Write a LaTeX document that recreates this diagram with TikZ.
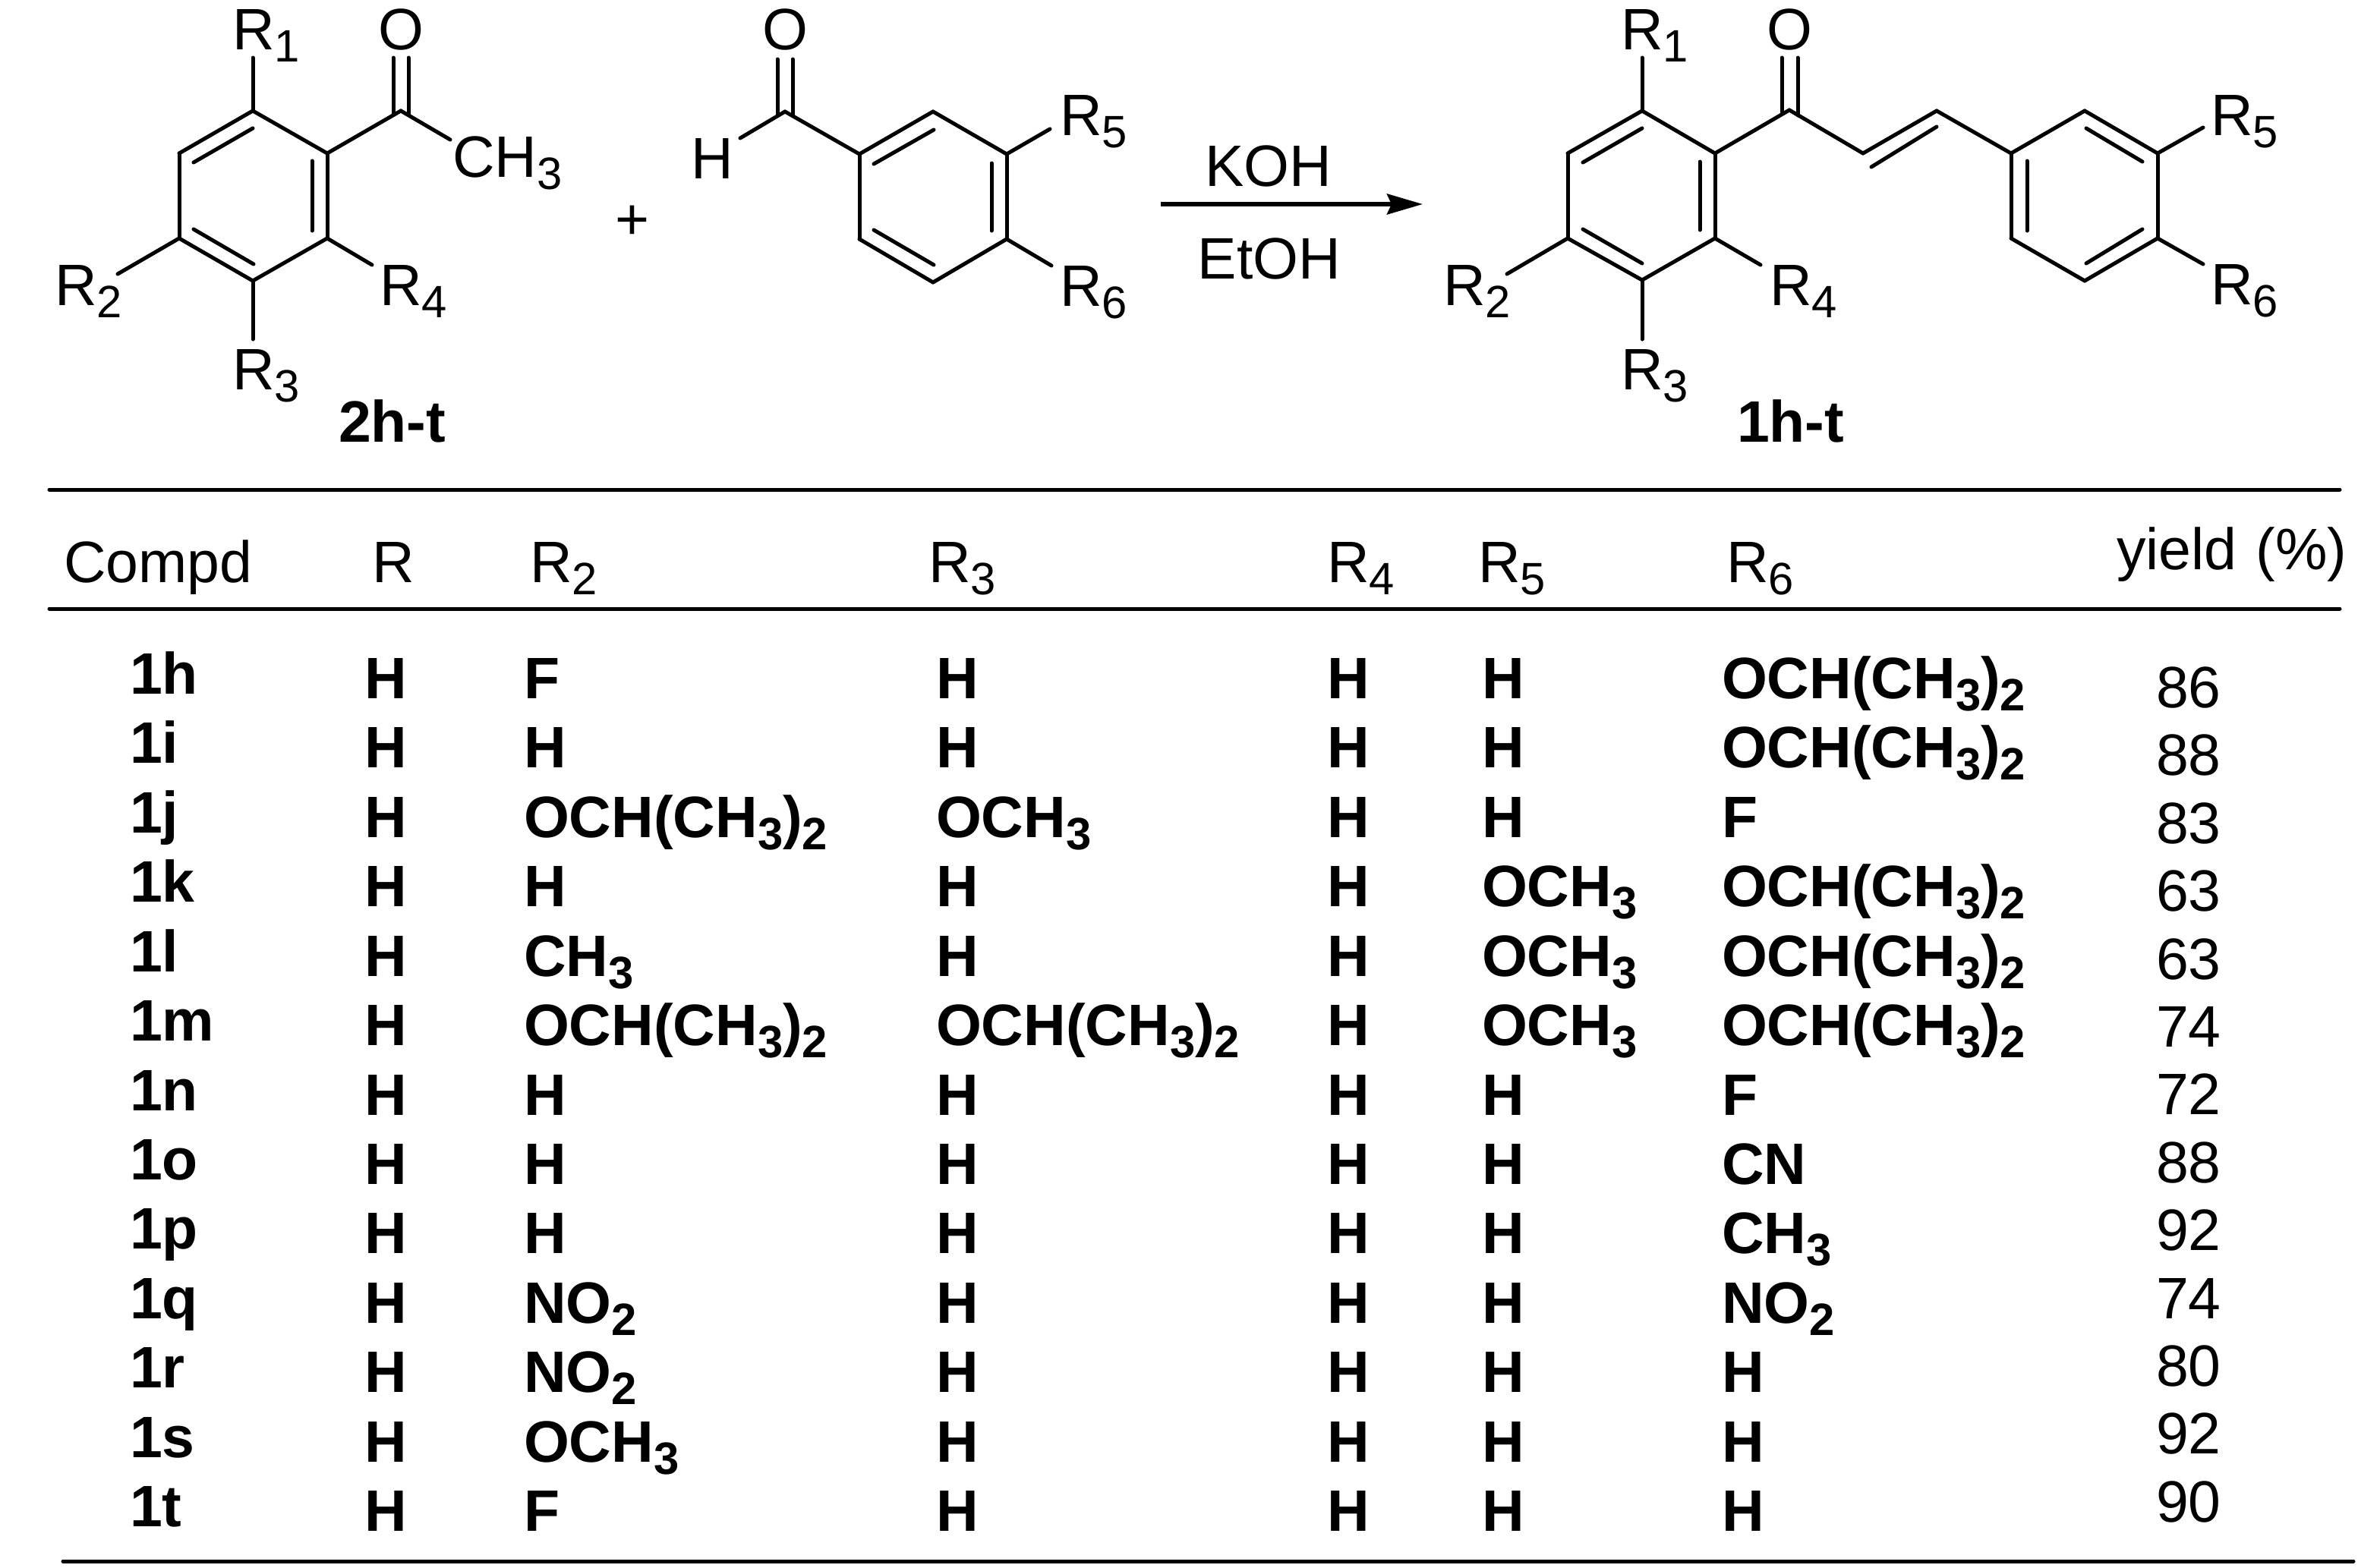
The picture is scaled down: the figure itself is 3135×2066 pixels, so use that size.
\documentclass[tikz,border=0pt]{standalone}
\usepackage{fontspec}
\setmainfont{Liberation Sans}
\usepackage{tikz}
\usetikzlibrary{arrows.meta}
\newcommand{\subs}[1]{\raisebox{-0.16cm}{\fontsize{17pt}{18pt}\selectfont #1}}
\newcommand{\och}{OCH(CH\subs{3})\subs{2}}
\newcommand{\ome}{OCH\subs{3}}
\tikzset{
	txt/.style={anchor=base west,inner sep=0pt,outer sep=0pt,font=\fontsize{21.9pt}{24pt}\selectfont},
	cell/.style={txt,font=\fontsize{21.9pt}{24pt}\selectfont\bfseries},
	mid/.style={txt,anchor=base},
	bond/.style={line width=0.05cm,line cap=round,black},
	rule/.style={line width=0.05cm,line cap=round,black},
}

\begin{document}
\begin{tikzpicture}[x=0.01cm,y=-0.01cm]
		\useasboundingbox (0,0) rectangle (3135,2066);

		\coordinate (a1) at (333,146);
		\coordinate (a2) at (431,202);
		\coordinate (a3) at (431,314);
		\coordinate (a4) at (333,370);
		\coordinate (a5) at (236,314);
		\coordinate (a6) at (236,202);
		\coordinate (a7) at (528,146);
		\coordinate (a1i) at (333,169);
		\coordinate (a6i) at (255,214);
		\coordinate (a2i) at (411,212);
		\coordinate (a3i) at (411,304);
		\coordinate (a5i) at (255,302);
		\coordinate (a4i) at (334,348);
		\coordinate (ao1) at (518,76);
		\coordinate (ao2) at (518,149);
		\coordinate (ao3) at (538,76);
		\coordinate (ao4) at (538,151);
		\coordinate (aR1) at (333,76);
		\coordinate (aR2) at (155,361);
		\coordinate (aR3) at (333,447);
		\coordinate (aR4) at (490,349);
		\coordinate (aMe) at (593,184);

		\path [bond] (a1) edge (a2);
		\path [bond] (a2) edge (a3);
		\path [bond] (a3) edge (a4);
		\path [bond] (a4) edge (a5);
		\path [bond] (a5) edge (a6);
		\path [bond] (a6) edge (a1);
		\path [bond] (a6i) edge (a1i);
		\path [bond] (a2i) edge (a3i);
		\path [bond] (a5i) edge (a4i);
		\path [bond] (a2) edge (a7);
		\path [bond] (a7) edge (aMe);
		\path [bond] (ao1) edge (ao2);
		\path [bond] (ao3) edge (ao4);
		\path [bond] (a1) edge (aR1);
		\path [bond] (a5) edge (aR2);
		\path [bond] (a4) edge (aR3);
		\path [bond] (a3) edge (aR4);

		\node[mid] (aO) at (528,65){O};
		\node[txt] (aCH) at (596,233){CH\subs{3}};
		\node[txt] (aRa) at (306,65){R\subs{1}};
		\node[txt] (aRb) at (72,402){R\subs{2}};
		\node[txt] (aRc) at (306,513){R\subs{3}};
		\node[txt] (aRd) at (500,402){R\subs{4}};
		\node[cell] (aName) at (446,582){2h-t};

		\node[mid] (plus) at (833,315){+};

		\coordinate (b1) at (1229,147);
		\coordinate (b2) at (1326,203);
		\coordinate (b3) at (1326,315);
		\coordinate (b4) at (1229,372);
		\coordinate (b5) at (1132,315);
		\coordinate (b6) at (1132,203);
		\coordinate (b7) at (1034,147);
		\coordinate (b1i) at (1230,171);
		\coordinate (b6i) at (1151,216);
		\coordinate (b2i) at (1306,215);
		\coordinate (b3i) at (1306,304);
		\coordinate (b5i) at (1151,303);
		\coordinate (b4i) at (1230,349);
		\coordinate (bo1) at (1024,78);
		\coordinate (bo2) at (1024,152);
		\coordinate (bo3) at (1044,78);
		\coordinate (bo4) at (1044,152);
		\coordinate (bH) at (975,182);
		\coordinate (bR5) at (1383,170);
		\coordinate (bR6) at (1385,350);

		\path [bond] (b1) edge (b2);
		\path [bond] (b2) edge (b3);
		\path [bond] (b3) edge (b4);
		\path [bond] (b4) edge (b5);
		\path [bond] (b5) edge (b6);
		\path [bond] (b6) edge (b1);
		\path [bond] (b6i) edge (b1i);
		\path [bond] (b2i) edge (b3i);
		\path [bond] (b5i) edge (b4i);
		\path [bond] (b6) edge (b7);
		\path [bond] (b7) edge (bH);
		\path [bond] (bo1) edge (bo2);
		\path [bond] (bo3) edge (bo4);
		\path [bond] (b2) edge (bR5);
		\path [bond] (b3) edge (bR6);

		\node[mid] (bO) at (1034,65){O};
		\node[txt] (bHt) at (910,235){H};
		\node[txt] (bRe) at (1396,178){R\subs{5}};
		\node[txt] (bRf) at (1396,403){R\subs{6}};

		\coordinate (arS) at (1529,269);
		\coordinate (arE) at (1874,269);
		\draw [-{Stealth[length=0.47cm,width=0.27cm,inset=0.06cm]},line width=0.055cm,black] (arS) -- (arE);
		\node[mid] (koh) at (1671,245){KOH};
		\node[mid] (etoh) at (1672,367){EtOH};

		\coordinate (c1) at (2163,146);
		\coordinate (c2) at (2259,202);
		\coordinate (c3) at (2259,314);
		\coordinate (c4) at (2163,369);
		\coordinate (c5) at (2065,314);
		\coordinate (c6) at (2065,202);
		\coordinate (c7) at (2357,145);
		\coordinate (c8) at (2454,202);
		\coordinate (c9) at (2551,146);
		\coordinate (c1i) at (2163,169);
		\coordinate (c6i) at (2085,214);
		\coordinate (c2i) at (2239,213);
		\coordinate (c3i) at (2239,303);
		\coordinate (c5i) at (2085,302);
		\coordinate (c4i) at (2163,347);
		\coordinate (c8i) at (2465,220);
		\coordinate (c9i) at (2551,167);
		\coordinate (co1) at (2347,76);
		\coordinate (co2) at (2347,150);
		\coordinate (co3) at (2368,76);
		\coordinate (co4) at (2368,152);
		\coordinate (cR1) at (2163,76);
		\coordinate (cR2) at (1985,361);
		\coordinate (cR3) at (2163,447);
		\coordinate (cR4) at (2319,349);

		\path [bond] (c1) edge (c2);
		\path [bond] (c2) edge (c3);
		\path [bond] (c3) edge (c4);
		\path [bond] (c4) edge (c5);
		\path [bond] (c5) edge (c6);
		\path [bond] (c6) edge (c1);
		\path [bond] (c6i) edge (c1i);
		\path [bond] (c2i) edge (c3i);
		\path [bond] (c5i) edge (c4i);
		\path [bond] (c2) edge (c7);
		\path [bond] (c7) edge (c8);
		\path [bond] (c8) edge (c9);
		\path [bond] (c8i) edge (c9i);
		\path [bond] (co1) edge (co2);
		\path [bond] (co3) edge (co4);
		\path [bond] (c1) edge (cR1);
		\path [bond] (c5) edge (cR2);
		\path [bond] (c4) edge (cR3);
		\path [bond] (c3) edge (cR4);

		\node[mid] (cO) at (2357,65){O};
		\node[txt] (cRa) at (2135,65){R\subs{1}};
		\node[txt] (cRb) at (1901,402){R\subs{2}};
		\node[txt] (cRc) at (2135,513){R\subs{3}};
		\node[txt] (cRd) at (2331,402){R\subs{4}};
		\node[cell] (cName) at (2288,582){1h-t};

		\coordinate (d1) at (2746,146);
		\coordinate (d2) at (2842,202);
		\coordinate (d3) at (2842,314);
		\coordinate (d4) at (2746,370);
		\coordinate (d5) at (2649,314);
		\coordinate (d6) at (2649,202);
		\coordinate (d1i) at (2748,169);
		\coordinate (d2i) at (2822,213);
		\coordinate (d6i) at (2670,212);
		\coordinate (d5i) at (2670,304);
		\coordinate (d3i) at (2822,302);
		\coordinate (d4i) at (2748,347);
		\coordinate (dR5) at (2902,168);
		\coordinate (dR6) at (2902,348);

		\path [bond] (d1) edge (d2);
		\path [bond] (d2) edge (d3);
		\path [bond] (d3) edge (d4);
		\path [bond] (d4) edge (d5);
		\path [bond] (d5) edge (d6);
		\path [bond] (d6) edge (d1);
		\path [bond] (d1i) edge (d2i);
		\path [bond] (d6i) edge (d5i);
		\path [bond] (d3i) edge (d4i);
		\path [bond] (c9) edge (d6);
		\path [bond] (d2) edge (dR5);
		\path [bond] (d3) edge (dR6);

		\node[txt] (dRe) at (2912,178){R\subs{5}};
		\node[txt] (dRf) at (2912,401){R\subs{6}};

		\coordinate (topL) at (65,645);
		\coordinate (topR) at (3082,645);
		\coordinate (midL) at (65,802);
		\coordinate (midR) at (3082,802);
		\coordinate (botL) at (83,2057);
		\coordinate (botR) at (3100,2057);
		\path [rule] (topL) edge (topR);
		\path [rule] (midL) edge (midR);
		\path [rule] (botL) edge (botR);

		\node[txt] (hd0) at (84,767){Compd};
		\node[txt] (hd1) at (490,767){R};
		\node[txt] (hd2) at (698,767){R\subs{2}};
		\node[txt] (hd3) at (1223,767){R\subs{3}};
		\node[txt] (hd4) at (1748,767){R\subs{4}};
		\node[txt] (hd5) at (1947,767){R\subs{5}};
		\node[txt] (hd6) at (2274,767){R\subs{6}};
		\node[txt] (hd7) at (2788,750){yield\hspace{0.04cm} (\%)};

		\node[cell] (h0) at (171,914){1h};
		\node[cell] (h1) at (480,920){H};
		\node[cell] (h2) at (690,920){F};
		\node[cell] (h3) at (1233,920){H};
		\node[cell] (h4) at (1748,920){H};
		\node[cell] (h5) at (1952,920){H};
		\node[cell] (h6) at (2268,920){\och};
		\node[txt] (h7) at (2840,932){86};

		\node[cell] (i0) at (171,1005){1i};
		\node[cell] (i1) at (480,1011){H};
		\node[cell] (i2) at (690,1011){H};
		\node[cell] (i3) at (1233,1011){H};
		\node[cell] (i4) at (1748,1011){H};
		\node[cell] (i5) at (1952,1011){H};
		\node[cell] (i6) at (2268,1011){\och};
		\node[txt] (i7) at (2840,1021){88};

		\node[cell] (j0) at (171,1097){1j};
		\node[cell] (j1) at (480,1103){H};
		\node[cell] (j2) at (690,1103){\och};
		\node[cell] (j3) at (1233,1103){\ome};
		\node[cell] (j4) at (1748,1103){H};
		\node[cell] (j5) at (1952,1103){H};
		\node[cell] (j6) at (2268,1103){F};
		\node[txt] (j7) at (2840,1111){83};

		\node[cell] (k0) at (171,1188){1k};
		\node[cell] (k1) at (480,1194){H};
		\node[cell] (k2) at (690,1194){H};
		\node[cell] (k3) at (1233,1194){H};
		\node[cell] (k4) at (1748,1194){H};
		\node[cell] (k5) at (1952,1194){\ome};
		\node[cell] (k6) at (2268,1194){\och};
		\node[txt] (k7) at (2840,1200){63};

		\node[cell] (l0) at (171,1280){1l};
		\node[cell] (l1) at (480,1286){H};
		\node[cell] (l2) at (690,1286){CH\subs{3}};
		\node[cell] (l3) at (1233,1286){H};
		\node[cell] (l4) at (1748,1286){H};
		\node[cell] (l5) at (1952,1286){\ome};
		\node[cell] (l6) at (2268,1286){\och};
		\node[txt] (l7) at (2840,1290){63};

		\node[cell] (m0) at (171,1371){1m};
		\node[cell] (m1) at (480,1377){H};
		\node[cell] (m2) at (690,1377){\och};
		\node[cell] (m3) at (1233,1377){\och};
		\node[cell] (m4) at (1748,1377){H};
		\node[cell] (m5) at (1952,1377){\ome};
		\node[cell] (m6) at (2268,1377){\och};
		\node[txt] (m7) at (2840,1379){74};

		\node[cell] (n0) at (171,1463){1n};
		\node[cell] (n1) at (480,1469){H};
		\node[cell] (n2) at (690,1469){H};
		\node[cell] (n3) at (1233,1469){H};
		\node[cell] (n4) at (1748,1469){H};
		\node[cell] (n5) at (1952,1469){H};
		\node[cell] (n6) at (2268,1469){F};
		\node[txt] (n7) at (2840,1468){72};

		\node[cell] (o0) at (171,1554){1o};
		\node[cell] (o1) at (480,1560){H};
		\node[cell] (o2) at (690,1560){H};
		\node[cell] (o3) at (1233,1560){H};
		\node[cell] (o4) at (1748,1560){H};
		\node[cell] (o5) at (1952,1560){H};
		\node[cell] (o6) at (2268,1560){CN};
		\node[txt] (o7) at (2840,1558){88};

		\node[cell] (p0) at (171,1645){1p};
		\node[cell] (p1) at (480,1651){H};
		\node[cell] (p2) at (690,1651){H};
		\node[cell] (p3) at (1233,1651){H};
		\node[cell] (p4) at (1748,1651){H};
		\node[cell] (p5) at (1952,1651){H};
		\node[cell] (p6) at (2268,1651){CH\subs{3}};
		\node[txt] (p7) at (2840,1647){92};

		\node[cell] (q0) at (171,1737){1q};
		\node[cell] (q1) at (480,1743){H};
		\node[cell] (q2) at (690,1743){NO\subs{2}};
		\node[cell] (q3) at (1233,1743){H};
		\node[cell] (q4) at (1748,1743){H};
		\node[cell] (q5) at (1952,1743){H};
		\node[cell] (q6) at (2268,1743){NO\subs{2}};
		\node[txt] (q7) at (2840,1737){74};

		\node[cell] (r0) at (171,1828){1r};
		\node[cell] (r1) at (480,1834){H};
		\node[cell] (r2) at (690,1834){NO\subs{2}};
		\node[cell] (r3) at (1233,1834){H};
		\node[cell] (r4) at (1748,1834){H};
		\node[cell] (r5) at (1952,1834){H};
		\node[cell] (r6) at (2268,1834){H};
		\node[txt] (r7) at (2840,1826){80};

		\node[cell] (s0) at (171,1920){1s};
		\node[cell] (s1) at (480,1926){H};
		\node[cell] (s2) at (690,1926){\ome};
		\node[cell] (s3) at (1233,1926){H};
		\node[cell] (s4) at (1748,1926){H};
		\node[cell] (s5) at (1952,1926){H};
		\node[cell] (s6) at (2268,1926){H};
		\node[txt] (s7) at (2840,1915){92};

		\node[cell] (t0) at (171,2011){1t};
		\node[cell] (t1) at (480,2017){H};
		\node[cell] (t2) at (690,2017){F};
		\node[cell] (t3) at (1233,2017){H};
		\node[cell] (t4) at (1748,2017){H};
		\node[cell] (t5) at (1952,2017){H};
		\node[cell] (t6) at (2268,2017){H};
		\node[txt] (t7) at (2840,2005){90};
\end{tikzpicture}
\end{document}
